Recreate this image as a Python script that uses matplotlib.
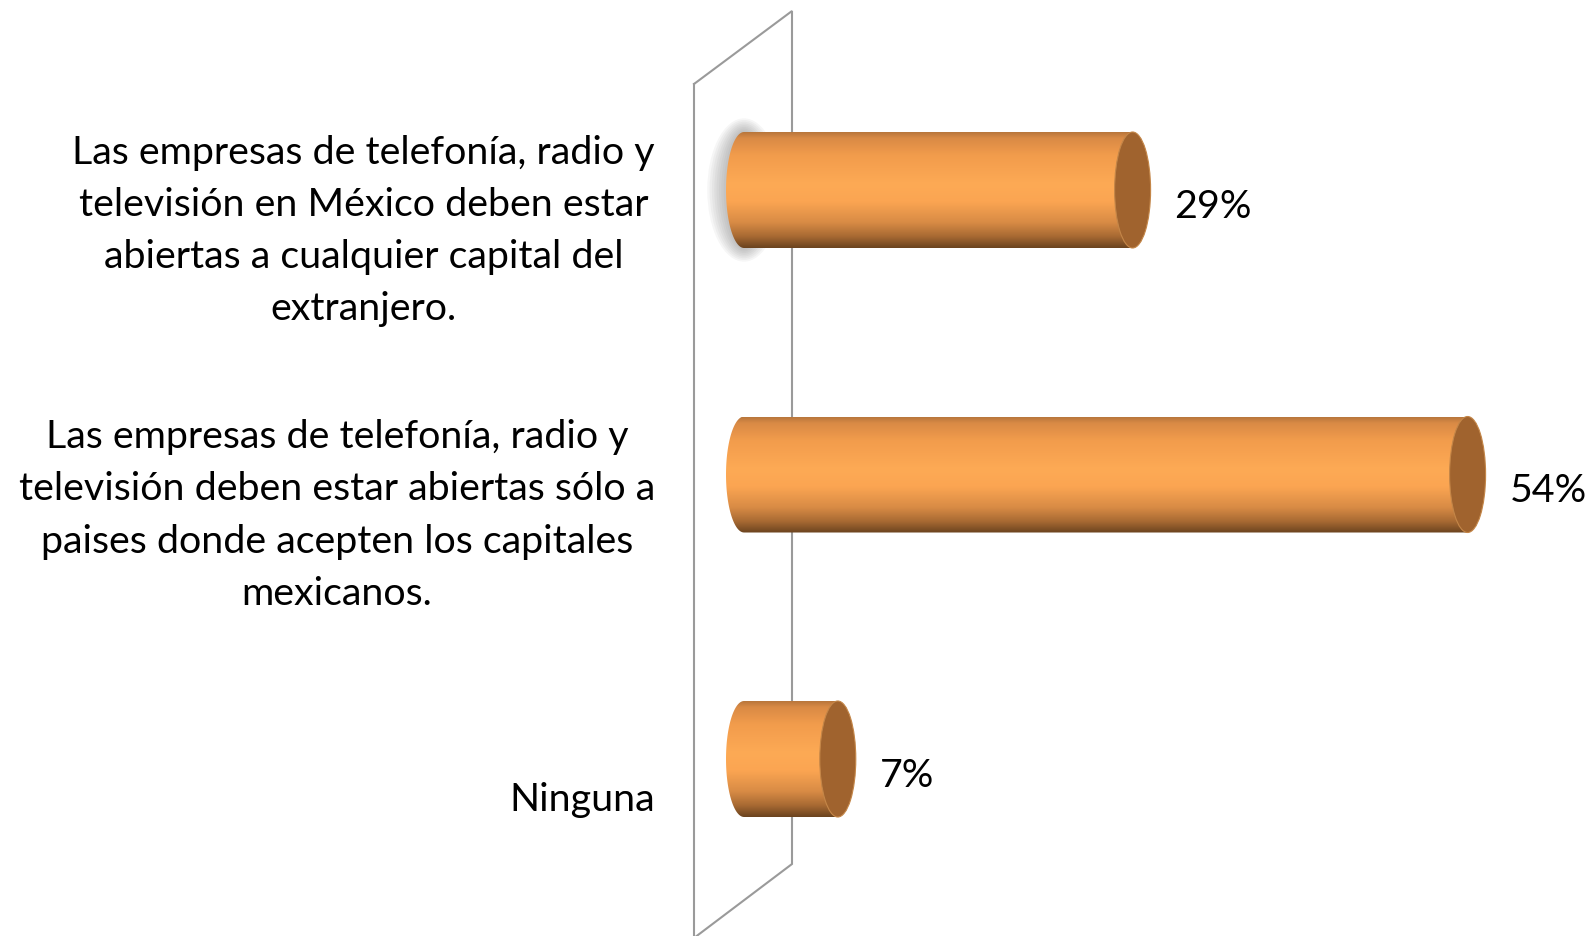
import numpy as np
import matplotlib
matplotlib.use("Agg")
import matplotlib.pyplot as plt
from matplotlib.patches import Ellipse, PathPatch
from matplotlib.path import Path
from matplotlib.colors import LinearSegmentedColormap

categories = [
    "Las empresas de telefonía, radio y\ntelevisión en México deben estar\nabiertas a cualquier capital del\nextranjero.",
    "Las empresas de telefonía, radio y\ntelevisión deben estar abiertas sólo a\npaises donde acepten los capitales\nmexicanos.",
    "Ninguna",
]
values = [29, 54, 7]
value_labels = ["29%", "54%", "7%"]

W, H, DPI = 1591, 937, 100
fig = plt.figure(figsize=(W / DPI, H / DPI), dpi=DPI)
ax = fig.add_axes([0, 0, 1, 1])
ax.axis("off")

# ---- layout (pixel based) ----
X0_PX, PX_PER_PCT = 744, 13.4
Y0_PX, ROW_PX = 191, 284.5


def px_x(p):
    return (p - X0_PX) / PX_PER_PCT


def px_y(p):
    return (p - Y0_PX) / ROW_PX


FONT = ["Lato", "DejaVu Sans"]
FS = 28.4
half_h = 58 / ROW_PX
rx = 18 / PX_PER_PCT

# ---- 3D wall ----
wall_px = [(694, 85), (792, 12), (792, 865), (694, H + 2), (694, 85)]
ax.plot([px_x(a) for a, b in wall_px], [px_y(b) for a, b in wall_px],
        color="#9a9a9a", lw=1.5, zorder=1, solid_joinstyle="miter")

# ---- gradient for cylinder body ----
grad_cmap = LinearSegmentedColormap.from_list(
    "cyl",
    [(0.0, "#b8763c"), (0.05, "#d98a45"), (0.2, "#f29c4c"), (0.45, "#fdaa55"),
     (0.6, "#fba552"), (0.78, "#d88b45"), (0.9, "#a86a33"), (1.0, "#6b431f")])
grad = np.linspace(0, 1, 256).reshape(-1, 1)

for i, v in enumerate(values):
    top, bot = i - half_h, i + half_h
    # soft shadow around the base of the first bar
    if i == 0:
        for k in range(8):
            ax.add_patch(Ellipse((0, i), 2 * rx + (8 - k) * 0.35, 2 * half_h + (8 - k) * 0.012,
                                 facecolor="#808080", edgecolor="none", alpha=0.07, zorder=2))
    t = np.linspace(np.pi / 2, 3 * np.pi / 2, 60)
    xs = list(rx * np.cos(t)) + [v, v]
    ys = list(i - half_h * np.sin(t)) + [bot, top]
    verts = list(zip(xs, ys)) + [(xs[0], ys[0])]
    codes = [Path.MOVETO] + [Path.LINETO] * (len(verts) - 2) + [Path.CLOSEPOLY]
    body = PathPatch(Path(verts, codes), facecolor="none", edgecolor="none", zorder=3)
    ax.add_patch(body)
    im = ax.imshow(grad, cmap=grad_cmap, aspect="auto", origin="upper",
                   extent=(-rx, v + rx, bot, top), zorder=3, interpolation="bilinear")
    im.set_clip_path(body)
    # end cap
    ax.add_patch(Ellipse((v, i), 2 * rx, 2 * half_h, facecolor="#a0632e",
                         edgecolor="#c48648", lw=0.8, zorder=4))
    # value label
    ax.text(v + 42 / PX_PER_PCT, i + 16 / ROW_PX, value_labels[i], fontsize=FS,
            family=FONT, ha="left", va="center", color="black", zorder=5)

# category labels
for i, c in enumerate(categories):
    ax.text(px_x(655), i + 40 / ROW_PX, c, fontsize=FS, family=FONT, ha="right",
            va="center", multialignment="center", linespacing=1.56, color="black")

ax.set_xlim(px_x(0), px_x(W))
ax.set_ylim(px_y(H), px_y(0))

fig.savefig("out.png", dpi=DPI, facecolor="white")
